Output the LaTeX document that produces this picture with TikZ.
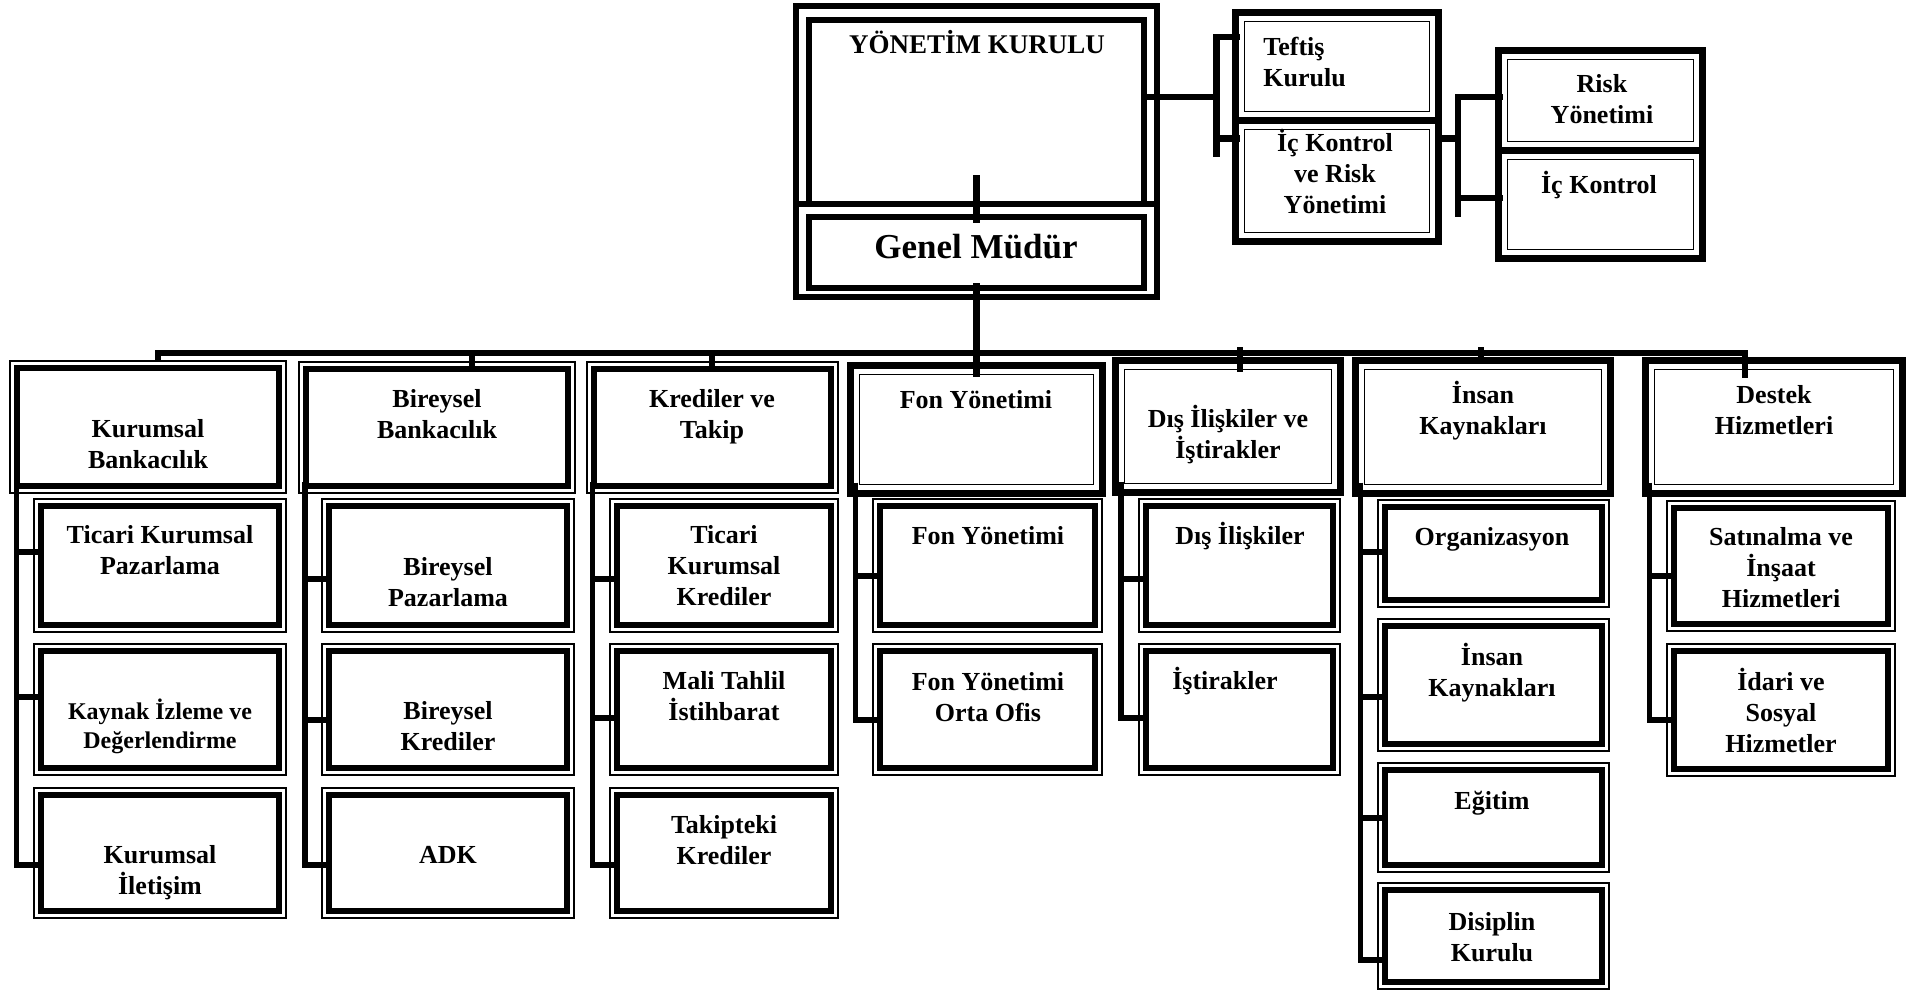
\documentclass[tikz,border=0pt]{standalone}
\usepackage{fontspec}
\setmainfont{Liberation Serif}
\usetikzlibrary{fit,calc}
\newcommand\mystrut{\rule{0pt}{0.92em}}
\tikzset{
  boxA/.style={draw, line width=0.9pt, inner sep=0pt, outer sep=0pt},
  boxB/.style={draw, line width=3.5pt, inner sep=0pt, outer sep=0pt},
  boxC/.style={draw, line width=3pt, inner sep=0pt, outer sep=0pt},
  innerA/.style={line width=3pt},
  innerB/.style={line width=0.75pt},
  conn/.style={line width=2.75pt},
  topconn/.style={line width=3.3pt},
  txt/.style={font=\bfseries\fontsize{13}{15.5}\selectfont, align=center, inner sep=0pt, anchor=north},
  smalltxt/.style={txt, font=\bfseries\fontsize{12}{14.5}\selectfont},
}
\begin{document}
\begin{tikzpicture}[x=0.5pt, y=-0.5pt]
\useasboundingbox (0,0) rectangle (1907,991);

% ---------- top boxes ----------
\node[boxC, fit={(796,6) (1157,204)}] (yk) {};
\node[boxC, fit={(796,204) (1157,297)}] (gm) {};
\node[boxB, fit={(1235.5,12.5) (1438.5,120.5)}] (tk) {};
\node[boxB, fit={(1235.5,120.5) (1438.5,241.5)}] (ick) {};
\node[boxB, fit={(1498.5,50.5) (1702.5,150.5)}] (rk) {};
\node[boxB, fit={(1498.5,150.5) (1702.5,258.5)}] (ik) {};

% ---------- heads ----------
\node[boxA, fit={(10,361) (286,493)}] (h1) {};
\node[boxA, fit={(299,362) (575,493)}] (h2) {};
\node[boxA, fit={(587,362) (838,493)}] (h3) {};
\node[boxB, fit={(850.5,365.5) (1102.5,493.5)}] (h4) {};
\node[boxB, fit={(1115.5,360.5) (1340.5,492.5)}] (h5) {};
\node[boxB, fit={(1355.5,360.5) (1610.5,493.5)}] (h6) {};
\node[boxB, fit={(1645.5,360.5) (1902.5,493.5)}] (h7) {};

% ---------- children ----------
\node[boxA, fit={(34,499) (286,632)}] (c11) {};
\node[boxA, fit={(34,644) (286,775)}] (c12) {};
\node[boxA, fit={(34,788) (286,918)}] (c13) {};
\node[boxA, fit={(322,499) (574,632)}] (c21) {};
\node[boxA, fit={(322,644) (574,775)}] (c22) {};
\node[boxA, fit={(322,788) (574,918)}] (c23) {};
\node[boxA, fit={(610,499) (838,632)}] (c31) {};
\node[boxA, fit={(610,644) (838,775)}] (c32) {};
\node[boxA, fit={(610,788) (838,918)}] (c33) {};
\node[boxA, fit={(873,499) (1102,632)}] (c41) {};
\node[boxA, fit={(873,644) (1102,775)}] (c42) {};
\node[boxA, fit={(1139,499) (1340,632)}] (c51) {};
\node[boxA, fit={(1139,644) (1340,775)}] (c52) {};
\node[boxA, fit={(1378,500) (1609,607)}] (c61) {};
\node[boxA, fit={(1378,619) (1609,751)}] (c62) {};
\node[boxA, fit={(1378,763) (1609,872)}] (c63) {};
\node[boxA, fit={(1378,883) (1609,989)}] (c64) {};
\node[boxA, fit={(1667,501) (1895,631)}] (c71) {};
\node[boxA, fit={(1667,644) (1895,776)}] (c72) {};

% ---------- inner frames ----------
\foreach \n in {h1,h2,h3,c11,c12,c13,c21,c22,c23,c31,c32,c33,c41,c42,c51,c52,c61,c62,c63,c64,c71,c72}
  \draw[innerA] ([shift={(7,7)}]\n.north west) rectangle ([shift={(-7,-7)}]\n.south east);
\foreach \n in {tk,ick,rk,ik,h4,h5,h6,h7}
  \draw[innerB] ([shift={(9,9)}]\n.north west) rectangle ([shift={(-9,-9)}]\n.south east);
\draw[innerA] ([shift={(13,13.5)}]yk.north west) rectangle ([shift={(-13,0)}]yk.south east);
\draw[innerA] ([shift={(13,12.5)}]gm.north west) rectangle ([shift={(-13,-9.5)}]gm.south east);

% ---------- connectors: top ----------
\draw[topconn] (yk.south |- 0,175) -- (gm.north |- 0,223);
\draw[topconn] (gm.south |- 0,283) -- (h4.north |- 0,377);
\coordinate (b1) at (1216.5,97);
\draw[topconn] ($(yk.east |- b1)+(-11,0)$) -- (b1);
\draw[topconn] ($(tk.west |- 0,37)+(4,0)$) -| (b1 |- 0,157);
\draw[topconn] (b1 |- 0,138.5) -- ($(ick.west |- 0,138.5)+(4,0)$);
\coordinate (b2) at (1458,138.5);
\draw[topconn] (ick.east |- b2) -- (b2);
\draw[topconn] ($(rk.west |- 0,97)+(4,0)$) -| (b2 |- 0,217);
\draw[topconn] (b2 |- 0,198) -- ($(ik.west |- 0,198)+(4,0)$);

% ---------- bus ----------
\coordinate (busL) at (158,353);
\coordinate (busR) at (1745,353);
\draw[conn] (h1.north -| busL) -- (busL) -- (busR) -- ($(h7.north -| busR)+(0,17)$);
\draw[conn] (busL -| 472,0) -- ($(h2.north -| 472,0)+(0,10)$);
\draw[conn] (busL -| 712,0) -- ($(h3.north -| 712,0)+(0,10)$);
\draw[conn] ($(busL -| 1240,0)+(0,-6)$) -- ($(h5.north -| 1240,0)+(0,11.5)$);
\draw[conn] ($(busL -| 1481,0)+(0,-6)$) -- ($(h6.north -| 1481,0)+(0,2.5)$);

% ---------- column connectors ----------
\coordinate (v1) at ($(h1.south west)+(6.5,-11)$);
\coordinate (v2) at ($(h2.south west)+(6,-11)$);
\coordinate (v3) at ($(h3.south west)+(5.5,-11)$);
\coordinate (v4) at ($(h4.south west)+(5,-11)$);
\coordinate (v5) at ($(h5.south west)+(5.5,-11)$);
\coordinate (v6) at ($(h6.south west)+(5,-11)$);
\coordinate (v7) at ($(h7.south west)+(4,-11)$);

\draw[conn] (v1) |- ($(c13.west |- 0,865)+(6,0)$);
\foreach \c/\yy in {c11/552,c12/697} \draw[conn] (v1 |- 0,\yy) -- ($(\c.west |- 0,\yy)+(6,0)$);
\draw[conn] (v2) |- ($(c23.west |- 0,865)+(6,0)$);
\foreach \c/\yy in {c21/579,c22/720} \draw[conn] (v2 |- 0,\yy) -- ($(\c.west |- 0,\yy)+(6,0)$);
\draw[conn] (v3) |- ($(c33.west |- 0,865)+(6,0)$);
\foreach \c/\yy in {c31/579,c32/718} \draw[conn] (v3 |- 0,\yy) -- ($(\c.west |- 0,\yy)+(6,0)$);
\draw[conn] (v4) |- ($(c42.west |- 0,720)+(6,0)$);
\foreach \c/\yy in {c41/576} \draw[conn] (v4 |- 0,\yy) -- ($(\c.west |- 0,\yy)+(6,0)$);
\draw[conn] (v5) |- ($(c52.west |- 0,718)+(6,0)$);
\foreach \c/\yy in {c51/579} \draw[conn] (v5 |- 0,\yy) -- ($(\c.west |- 0,\yy)+(6,0)$);
\draw[conn] (v6) |- ($(c64.west |- 0,960)+(6,0)$);
\foreach \c/\yy in {c61/552,c62/697,c63/818} \draw[conn] (v6 |- 0,\yy) -- ($(\c.west |- 0,\yy)+(6,0)$);
\draw[conn] (v7) |- ($(c72.west |- 0,720)+(6,0)$);
\foreach \c/\yy in {c71/576} \draw[conn] (v7 |- 0,\yy) -- ($(\c.west |- 0,\yy)+(6,0)$);

% ---------- texts ----------
\node[txt, font=\bfseries\fontsize{13.5}{16}\selectfont] (tyk) at (977,28) {\mystrut YÖNETİM KURULU};
\node[txt, font=\bfseries\fontsize{17.5}{20}\selectfont] (tgm) at (976,226) {\mystrut Genel Müdür};
\node[txt, align=left, anchor=north west] (ttk) at (1263,31) {\mystrut Teftiş\\Kurulu};
\node[txt] (tick) at (1335,127) {\mystrut İç Kontrol\\ve Risk\\Yönetimi};
\node[txt] (trk) at (1602,68) {\mystrut Risk\\Yönetimi};
\node[txt] (tik) at (1599,169) {\mystrut İç Kontrol};

\node[txt] (th1) at (148,413) {\mystrut Kurumsal\\Bankacılık};
\node[txt] (th2) at (437,383) {\mystrut Bireysel\\Bankacılık};
\node[txt] (th3) at (712,383) {\mystrut Krediler ve\\Takip};
\node[txt] (th4) at (976,384) {\mystrut Fon Yönetimi};
\node[txt] (th5) at (1228,403) {\mystrut Dış İlişkiler ve\\İştirakler};
\node[txt] (th6) at (1483,379) {\mystrut İnsan\\Kaynakları};
\node[txt] (th7) at (1774,379) {\mystrut Destek\\Hizmetleri};

\node[txt] (tc11) at (160,519) {\mystrut Ticari Kurumsal\\Pazarlama};
\node[smalltxt] (tc12) at (160,697) {\mystrut Kaynak İzleme ve\\Değerlendirme};
\node[txt] (tc13) at (160,839) {\mystrut Kurumsal\\İletişim};
\node[txt] (tc21) at (448,551) {\mystrut Bireysel\\Pazarlama};
\node[txt] (tc22) at (448,695) {\mystrut Bireysel\\Krediler};
\node[txt] (tc23) at (448,839) {\mystrut ADK};
\node[txt] (tc31) at (724,519) {\mystrut Ticari\\Kurumsal\\Krediler};
\node[txt] (tc32) at (724,665) {\mystrut Mali Tahlil\\İstihbarat};
\node[txt] (tc33) at (724,809) {\mystrut Takipteki\\Krediler};
\node[txt] (tc41) at (988,520) {\mystrut Fon Yönetimi};
\node[txt] (tc42) at (988,666) {\mystrut Fon Yönetimi\\Orta Ofis};
\node[txt] (tc51) at (1240,520) {\mystrut Dış İlişkiler};
\node[txt] (tc52) at (1225,665) {\mystrut İştirakler};
\node[txt] (tc61) at (1492,521) {\mystrut Organizasyon};
\node[txt] (tc62) at (1492,641) {\mystrut İnsan\\Kaynakları};
\node[txt] (tc63) at (1492,785) {\mystrut Eğitim};
\node[txt] (tc64) at (1492,906) {\mystrut Disiplin\\Kurulu};
\node[txt] (tc71) at (1781,521) {\mystrut Satınalma ve\\İnşaat\\Hizmetleri};
\node[txt] (tc72) at (1781,666) {\mystrut İdari ve\\Sosyal\\Hizmetler};
\end{tikzpicture}
\end{document}
